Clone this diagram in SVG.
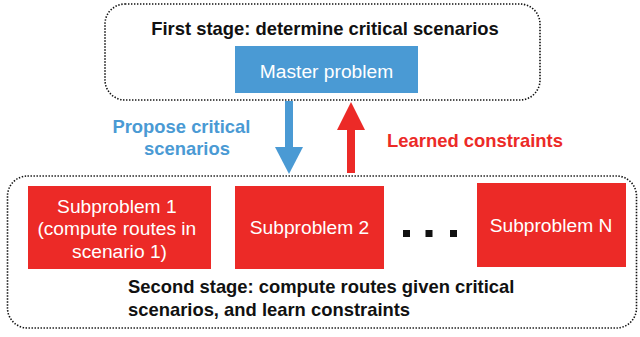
<svg xmlns="http://www.w3.org/2000/svg" width="640" height="337" viewBox="0 0 640 337">
  <style>
    .stage { fill: none; stroke: #111; stroke-width: 1.6; stroke-dasharray: 1.4 1.6; }
    .blue { fill: #4A9AD4; }
    .red { fill: #EC2A27; }
    .box-text { font-family: "Liberation Sans", Arial, sans-serif; font-size: 19.2px; fill: #fff; text-anchor: middle; }
    .bold { font-family: "Liberation Sans", Arial, sans-serif; font-size: 18.4px; font-weight: bold; }
  </style>

  <!-- First stage container -->
  <g id="first-stage">
    <rect class="stage" x="105" y="4" width="435" height="96" rx="20" ry="20"/>
    <text class="bold" x="325" y="35" text-anchor="middle" fill="#111">First stage: determine critical scenarios</text>
  </g>

  <g id="master-problem">
    <rect class="blue" x="235" y="46" width="183" height="47"/>
    <text class="box-text" x="326.5" y="77.5">Master problem</text>
  </g>

  <!-- Second stage container -->
  <g id="second-stage">
    <rect class="stage" x="7.5" y="176" width="629" height="152" rx="20" ry="20"/>
    <text class="bold" fill="#111">
      <tspan x="128" y="292.5">Second stage: compute routes given critical</tspan>
      <tspan x="128" y="315.5">scenarios, and learn constraints</tspan>
    </text>
  </g>

  <g id="subproblem-1">
    <rect class="red" x="28" y="186" width="183" height="83"/>
    <text class="box-text">
      <tspan x="119.5" y="212.5">Subproblem 1</tspan>
      <tspan x="119.5" y="234.5">(compute routes in</tspan>
      <tspan x="119.5" y="257.5">scenario 1)</tspan>
    </text>
  </g>

  <g id="subproblem-2">
    <rect class="red" x="235" y="186" width="149" height="83"/>
    <text class="box-text" x="309.5" y="234">Subproblem 2</text>
  </g>

  <g id="ellipsis" fill="#111">
    <rect x="403" y="230" width="7" height="7"/>
    <rect x="425.5" y="230" width="7" height="7"/>
    <rect x="450" y="230" width="7" height="7"/>
  </g>

  <g id="subproblem-n">
    <rect class="red" x="477" y="183" width="149" height="84"/>
    <text class="box-text" x="551" y="232">Subproblem N</text>
  </g>

  <!-- Connectors between the stages -->
  <g id="connectors">
    <g id="propose">
      <rect class="blue" x="285" y="101" width="8" height="47"/>
      <polygon class="blue" points="275,147 303,147 289,174"/>
      <text class="bold" text-anchor="middle" fill="#4A9AD4">
        <tspan x="184" y="133">Propose critical</tspan>
        <tspan x="187" y="154.5">scenarios</tspan>
      </text>
    </g>
    <g id="learned">
      <rect class="red" x="347" y="129" width="8" height="44"/>
      <polygon class="red" points="337,130 365,130 351,102"/>
      <text class="bold" x="475" y="147" text-anchor="middle" fill="#EC2A27">Learned constraints</text>
    </g>
  </g>
</svg>
